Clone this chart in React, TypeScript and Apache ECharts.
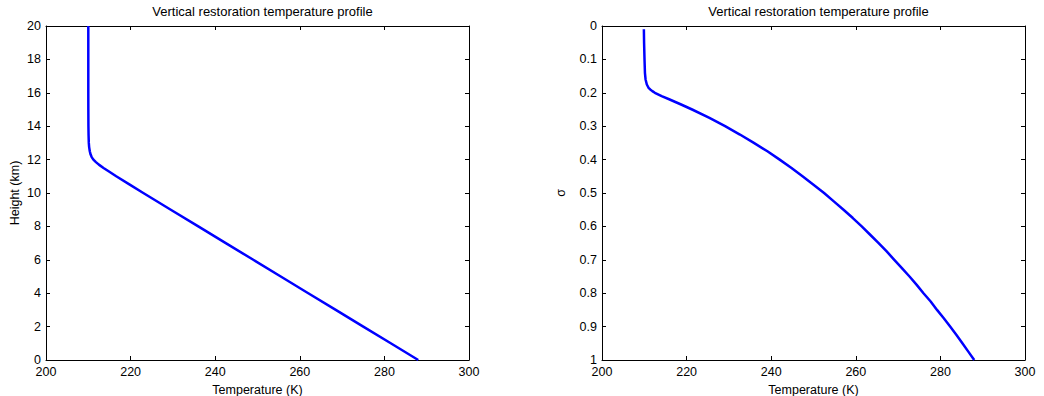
import React, { useEffect, useRef } from "react";
import * as echarts from "echarts";

const titleText = "Vertical restoration temperature profile";
const xTitle = "Temperature (K)";
const leftYTitle = "Height (km)";
const rightYTitle = "σ";

// Left panel: height (km) vs temperature (K)
const heightKm = [0, 1, 2, 3, 4, 5, 6, 7, 8, 9, 10, 10.5, 11, 11.3, 11.5, 11.7, 11.85, 12.0, 12.15, 12.3, 12.5, 12.75, 13, 13.5, 14, 15, 16, 18, 20];
const tempHeight = [288, 281.5, 275, 268.5, 262, 255.5, 249, 242.5, 236, 229.5, 223, 219.8, 216.6, 214.8, 213.6, 212.5, 211.8, 211.2, 210.8, 210.55, 210.35, 210.2, 210.12, 210.06, 210.03, 210.01, 210, 210, 210];

// Right panel: sigma vs temperature (K)
const sigmaLevels = [0.01, 0.05, 0.1, 0.14, 0.16, 0.175, 0.185, 0.19, 0.195, 0.2, 0.21, 0.22, 0.235, 0.25, 0.275, 0.3, 0.325, 0.35, 0.375, 0.4, 0.425, 0.45, 0.475, 0.5, 0.525, 0.55, 0.575, 0.6, 0.625, 0.65, 0.675, 0.7, 0.725, 0.75, 0.775, 0.8, 0.825, 0.85, 0.875, 0.9, 0.925, 0.95, 0.975, 1.0];
const tempSigma = [209.9, 209.95, 210.05, 210.15, 210.3, 210.6, 211.0, 211.4, 211.9, 212.5, 214.1, 216.0, 218.7, 221.3, 225.4, 229.1, 232.6, 235.9, 239.1, 242.0, 244.8, 247.4, 250.0, 252.5, 254.8, 257.1, 259.3, 261.4, 263.4, 265.4, 267.3, 269.1, 270.9, 272.7, 274.4, 276.0, 277.7, 279.2, 280.8, 282.3, 283.8, 285.2, 286.6, 288];

const xMin = 200;
const xMax = 300;
const xStep = 20;

const FONT = "Liberation Sans, Arial, Helvetica, sans-serif";

export default function App() {
  const ref = useRef<HTMLDivElement>(null);

  useEffect(() => {
    if (!ref.current) return;
    const chart = echarts.init(ref.current, null, { renderer: "svg" });

    const axisLine = { show: true, onZero: false, lineStyle: { color: "#000", width: 1 } };
    const tickIn = { show: true, inside: true, length: 4, lineStyle: { color: "#000", width: 1 } };
    const label = { color: "#000", fontSize: 12.5, lineHeight: 12, fontFamily: FONT };
    const nameStyle = { color: "#000", fontSize: 12.5, fontFamily: FONT };

    const mkX = (grid: number) => [
      {
        type: "value", gridIndex: grid, min: xMin, max: xMax, interval: xStep, position: "bottom",
        axisLine, axisTick: tickIn, splitLine: { show: false },
        axisLabel: { ...label, margin: 6 },
        name: xTitle, nameLocation: "middle", nameGap: 17,
        nameTextStyle: nameStyle,
      },
      {
        type: "value", gridIndex: grid, min: xMin, max: xMax, interval: xStep, position: "top",
        axisLine, axisTick: tickIn, splitLine: { show: false }, axisLabel: { show: false },
      },
    ];

    const sigmaFmt = (v: number) => String(+v.toFixed(2));

    const titleStyle = { color: "#000", fontSize: 13, fontWeight: "normal", fontFamily: FONT };

    const option = {
      animation: false,
      backgroundColor: "#fff",
      title: [
        { text: titleText, left: 257.5, top: 0, textAlign: "center", textStyle: titleStyle },
        { text: titleText, left: 813.5, top: 0, textAlign: "center", textStyle: titleStyle },
      ],
      grid: [
        { left: 46, top: 26, width: 423, height: 334, containLabel: false, outerBoundsMode: "none" },
        { left: 602, top: 26, width: 423, height: 334, containLabel: false, outerBoundsMode: "none" },
      ],
      xAxis: [...mkX(0), ...mkX(1)],
      yAxis: [
        {
          type: "value", gridIndex: 0, min: 0, max: 20, interval: 2, position: "left",
          axisLine, axisTick: tickIn, splitLine: { show: false },
          axisLabel: { ...label, margin: 5 },
          name: leftYTitle, nameLocation: "middle", nameGap: 25, nameRotate: 90,
          nameTextStyle: nameStyle,
        },
        {
          type: "value", gridIndex: 0, min: 0, max: 20, interval: 2, position: "right",
          axisLine, axisTick: tickIn, splitLine: { show: false }, axisLabel: { show: false },
        },
        {
          type: "value", gridIndex: 1, min: 0, max: 1, interval: 0.1, position: "left", inverse: true,
          axisLine, axisTick: tickIn, splitLine: { show: false },
          axisLabel: { ...label, margin: 5, formatter: sigmaFmt },
          name: rightYTitle, nameLocation: "middle", nameGap: 35, nameRotate: 90,
          nameTextStyle: nameStyle,
        },
        {
          type: "value", gridIndex: 1, min: 0, max: 1, interval: 0.1, position: "right", inverse: true,
          axisLine, axisTick: tickIn, splitLine: { show: false }, axisLabel: { show: false },
        },
      ],
      series: [
        {
          type: "line", xAxisIndex: 0, yAxisIndex: 0,
          data: heightKm.map((z, i) => [tempHeight[i], z]),
          showSymbol: false, symbol: "none", smooth: false,
          lineStyle: { color: "#0000ff", width: 2.5, join: "round" },
        },
        {
          type: "line", xAxisIndex: 2, yAxisIndex: 2,
          data: sigmaLevels.map((s, i) => [tempSigma[i], s]),
          showSymbol: false, symbol: "none", smooth: false,
          lineStyle: { color: "#0000ff", width: 2.5, join: "round" },
        },
      ],
    };

    chart.setOption(option as any);
    return () => chart.dispose();
  }, []);

  return <div ref={ref} style={{ width: 1044, height: 396, position: "absolute", left: 0, top: 0 }} />;
}
